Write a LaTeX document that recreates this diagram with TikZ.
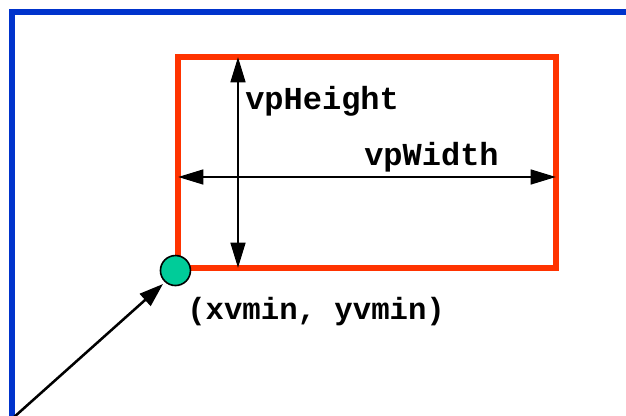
\documentclass[tikz,border=0pt]{standalone}
\usepackage{fontspec}
\setmonofont{Liberation Mono}
\usetikzlibrary{arrows.meta}
\definecolor{frameblue}{HTML}{0033CC}
\definecolor{vpred}{HTML}{FF3300}
\definecolor{dotgreen}{HTML}{00CC99}
\tikzset{
  framestyle/.style={draw=frameblue, line width=3.8pt},
  vpbox/.style={draw=vpred, line width=3.8pt, inner sep=0pt, minimum width=283.5pt, minimum height=158.25pt},
  dimarrow/.style={line width=1.9pt, {Triangle[length=19pt,width=11pt]}-{Triangle[length=19pt,width=11pt]}},
  ptarrow/.style={line width=1.9pt, -{Triangle[length=18pt,width=12pt]}},
  lbl/.style={font=\ttfamily\bfseries\fontsize{24}{28}\selectfont, inner sep=0pt, anchor=base west},
  dot/.style={circle, draw=black, line width=1.2pt, fill=dotgreen, minimum size=22.5pt, inner sep=0pt}
}
\begin{document}
\begin{tikzpicture}[x=0.75pt,y=-0.75pt]
\useasboundingbox (0,0) rectangle (626,416);
\fill[white] (0,0) rectangle (626,416);
\draw[framestyle] (12,420) -- (12,12) -- (630,12);
\node[vpbox] (vp) at (367,162.5) {};
\coordinate (htop) at (238,57);
\coordinate (hbot) at (238,268);
\coordinate (wl) at (178,177);
\coordinate (wr) at (556,177);
\draw[dimarrow] (hbot) -- (htop);
\draw[dimarrow] (wl) -- (wr);
\node[dot] (corner) at (vp.south west) {};
\node[lbl] (hlabel) at (245,110) {vpHeight};
\node[lbl] (wlabel) at (364,166) {vpWidth};
\node[lbl, font=\ttfamily\bfseries\fontsize{23}{27}\selectfont] (clabel) at (187,320) {(xvmin, yvmin)};
\coordinate (origin) at (13,418);
\draw[ptarrow] (origin) -- (163,284);
\end{tikzpicture}
\end{document}
